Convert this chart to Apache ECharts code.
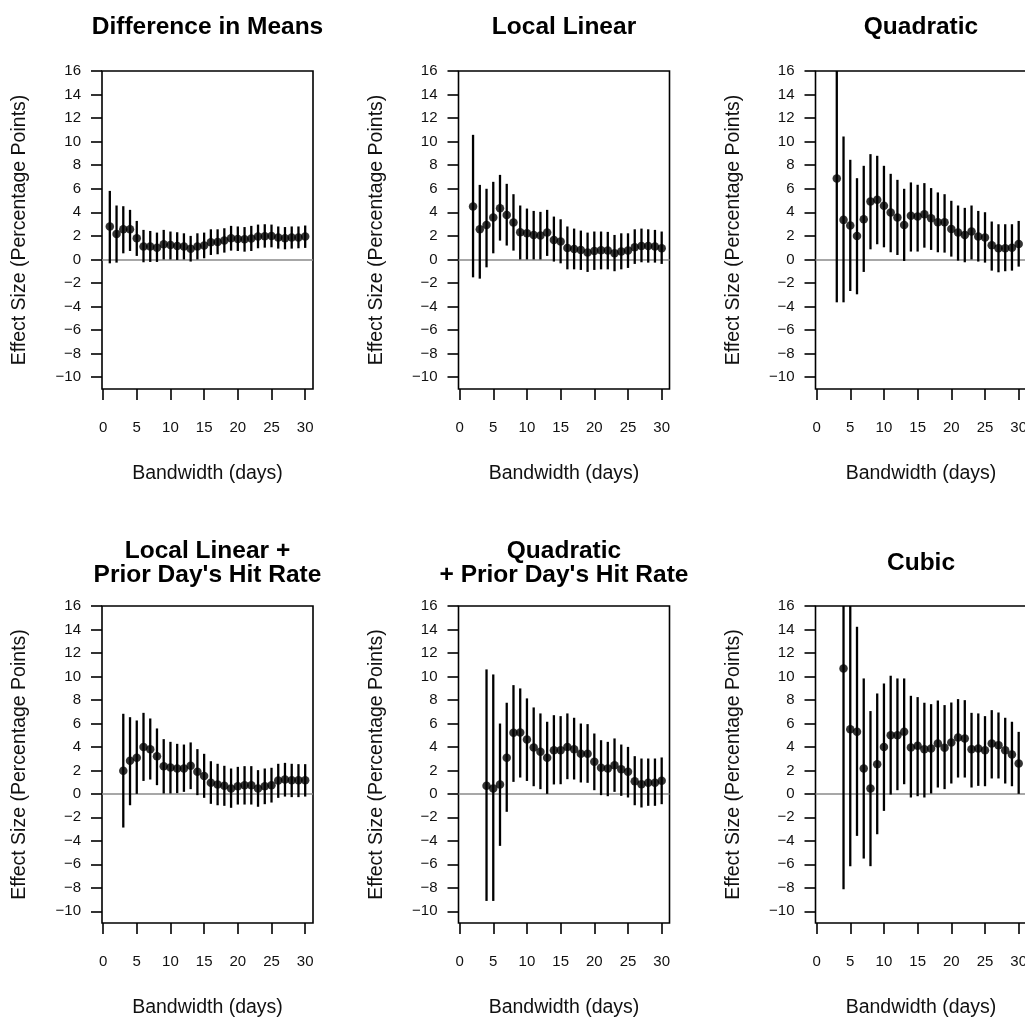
<!DOCTYPE html>
<html>
<head>
<meta charset="utf-8">
<script src="https://cdn.jsdelivr.net/npm/echarts@6/dist/echarts.min.js"></script>
<style>
html,body{margin:0;padding:0;background:#fff;}
#chart{width:1025px;height:1018px;}
</style>
</head>
<body>
<div id="chart"></div>
<script>
// ---- Data ----
const xTicks = [0, 5, 10, 15, 20, 25, 30];
const yTicks = [-10, -8, -6, -4, -2, 0, 2, 4, 6, 8, 10, 12, 14, 16];

const titles = [
  "Difference in Means",
  "Local Linear",
  "Quadratic",
  "Local Linear +\nPrior Day's Hit Rate",
  "Quadratic\n+ Prior Day's Hit Rate",
  "Cubic"
];

// Difference in Means
const bwDiff  = [1,2,3,4,5,6,7,8,9,10,11,12,13,14,15,16,17,18,19,20,21,22,23,24,25,26,27,28,29,30];
const estDiff = [2.79,2.17,2.56,2.56,1.80,1.09,1.09,1.00,1.29,1.23,1.15,1.09,0.90,1.09,1.18,1.46,1.49,1.60,1.80,1.74,1.71,1.77,1.94,1.97,2.00,1.86,1.80,1.86,1.86,1.94];
const loDiff  = [-0.33,-0.27,0.52,0.72,0.30,-0.24,-0.21,-0.21,0.00,0.00,-0.04,0.00,-0.18,0.00,0.10,0.38,0.44,0.58,0.75,0.72,0.66,0.72,0.95,1.00,1.03,0.92,0.86,0.92,0.95,0.98];
const hiDiff  = [5.82,4.58,4.52,4.21,3.27,2.51,2.42,2.28,2.51,2.37,2.31,2.22,2.00,2.22,2.28,2.56,2.56,2.65,2.85,2.80,2.75,2.85,2.96,2.99,2.96,2.80,2.75,2.80,2.80,2.88];

// Local Linear
const bwLL  = [2,3,4,5,6,7,8,9,10,11,12,13,14,15,16,17,18,19,20,21,22,23,24,25,26,27,28,29,30];
const estLL = [4.49,2.56,2.93,3.56,4.35,3.78,3.13,2.31,2.22,2.08,2.03,2.28,1.66,1.52,0.98,0.89,0.81,0.58,0.72,0.78,0.75,0.52,0.67,0.75,1.03,1.15,1.15,1.09,0.95];
const loLL  = [-1.52,-1.63,-0.67,0.52,1.60,1.18,0.75,0.00,0.00,0.00,0.00,0.30,-0.18,-0.33,-0.84,-0.84,-0.89,-1.06,-0.89,-0.84,-0.84,-1.00,-0.84,-0.72,-0.38,-0.24,-0.27,-0.27,-0.38];
const hiLL  = [10.58,6.33,6.00,6.59,7.18,6.42,5.54,4.58,4.32,4.12,4.04,4.21,3.64,3.41,2.80,2.62,2.45,2.28,2.37,2.37,2.34,2.08,2.22,2.22,2.56,2.62,2.56,2.51,2.37];

// Quadratic
const bwQ  = [3,4,5,6,7,8,9,10,11,12,13,14,15,16,17,18,19,20,21,22,23,24,25,26,27,28,29,30];
const estQ = [6.87,3.36,2.88,2.00,3.41,4.92,5.06,4.55,3.98,3.56,2.93,3.70,3.64,3.84,3.50,3.16,3.16,2.59,2.28,2.08,2.37,1.94,1.86,1.20,0.95,0.95,1.00,1.32];
const loQ  = [-3.64,-3.64,-2.68,-2.96,-1.06,0.86,1.29,1.03,0.61,0.38,-0.13,0.67,0.67,1.00,0.81,0.61,0.58,0.24,-0.10,-0.24,0.00,-0.18,-0.27,-0.95,-1.09,-1.00,-0.95,-0.61];
const hiQ  = [18.0,10.44,8.46,6.90,7.95,8.94,8.80,7.95,7.27,6.76,6.00,6.54,6.34,6.48,6.06,5.69,5.54,4.98,4.58,4.38,4.58,4.12,4.01,3.22,2.99,2.99,2.99,3.27];

// Local Linear + Prior Day's Hit Rate
const bwLLP  = [3,4,5,6,7,8,9,10,11,12,13,14,15,16,17,18,19,20,21,22,23,24,25,26,27,28,29,30];
const estLLP = [1.96,2.81,3.07,4.00,3.80,3.21,2.36,2.24,2.16,2.16,2.39,1.88,1.53,0.94,0.80,0.68,0.45,0.65,0.74,0.74,0.45,0.65,0.74,1.14,1.22,1.16,1.16,1.16];
const loLLP  = [-2.87,-0.97,0.00,1.10,1.22,0.74,0.03,0.03,0.06,0.17,0.40,-0.11,-0.34,-0.85,-0.97,-1.02,-1.19,-0.91,-0.91,-0.91,-1.10,-0.88,-0.74,-0.34,-0.23,-0.28,-0.28,-0.23];
const hiLLP  = [6.82,6.53,6.25,6.90,6.42,5.57,4.66,4.43,4.26,4.20,4.38,3.81,3.41,2.78,2.56,2.39,2.16,2.30,2.36,2.36,2.02,2.16,2.22,2.56,2.64,2.56,2.53,2.53];

// Quadratic + Prior Day's Hit Rate
const bwQP  = [4,5,6,7,8,9,10,11,12,13,14,15,16,17,18,19,20,21,22,23,24,25,26,27,28,29,30];
const estQP = [0.68,0.45,0.80,3.07,5.20,5.23,4.63,3.95,3.58,3.07,3.72,3.72,4.00,3.80,3.41,3.41,2.73,2.22,2.16,2.44,2.10,1.88,1.08,0.82,0.94,0.94,1.11];
const loQP  = [-9.12,-9.12,-4.43,-1.53,1.02,1.39,1.10,0.65,0.40,0.00,0.80,0.82,1.25,1.22,0.97,0.94,0.31,-0.11,-0.20,0.17,-0.17,-0.31,-0.97,-1.16,-1.02,-1.02,-0.88];
const hiQP  = [10.60,10.17,5.99,7.76,9.26,8.98,8.13,7.36,6.85,6.14,6.70,6.62,6.85,6.48,5.99,5.94,5.14,4.57,4.43,4.72,4.20,4.00,3.21,3.01,3.01,3.01,3.10];

// Cubic
const bwC  = [4,5,6,7,8,9,10,11,12,13,14,15,16,17,18,19,20,21,22,23,24,25,26,27,28,29,30];
const estC = [10.68,5.51,5.28,2.16,0.45,2.53,4.00,5.00,5.00,5.28,3.95,4.09,3.80,3.86,4.29,3.92,4.38,4.80,4.72,3.80,3.86,3.72,4.29,4.15,3.72,3.35,2.59];
const loC  = [-8.13,-6.16,-3.58,-5.51,-6.16,-3.44,-1.45,-0.06,0.31,0.82,-0.31,-0.20,-0.31,0.03,0.54,0.40,0.88,1.39,1.39,0.54,0.68,0.65,1.31,1.31,0.88,0.65,0.00];
const hiC  = [18.0,18.0,14.23,9.83,7.05,8.55,9.40,10.06,9.83,9.83,8.35,8.24,7.76,7.64,7.95,7.56,7.78,8.07,7.98,6.90,6.85,6.62,7.13,6.93,6.48,6.14,5.28];

// ---- Layout ----
const panels = [
  {bw: bwDiff, est: estDiff, lo: loDiff, hi: hiDiff},
  {bw: bwLL,   est: estLL,   lo: loLL,   hi: hiLL},
  {bw: bwQ,    est: estQ,    lo: loQ,    hi: hiQ},
  {bw: bwLLP,  est: estLLP,  lo: loLLP,  hi: hiLLP},
  {bw: bwQP,   est: estQP,   lo: loQP,   hi: hiQP},
  {bw: bwC,    est: estC,    lo: loC,    hi: hiC}
];
const colLeft = [102, 458.5, 815.5];
const boxW = 211;
const rowTop = [71, 606];
const boxH = [318, 317];
const titleCenterY = [25, 561];

const FONT = "'Liberation Sans', Arial, Helvetica, sans-serif";
const fmt = v => (v < 0 ? '\u2212' + Math.abs(v) : String(v));

const grid = [], xAxis = [], yAxis = [], series = [], title = [];
panels.forEach((p, i) => {
  const r = Math.floor(i / 3), c = i % 3;
  grid.push({left: colLeft[c], top: rowTop[r], width: boxW, height: boxH[r],
    outerBoundsMode: 'none', containLabel: false,
    show: true, borderColor: '#000', borderWidth: 1.6, backgroundColor: 'transparent'});
  xAxis.push({type: 'value', gridIndex: i, min: -0.16, max: 31.16,
    name: 'Bandwidth (days)', nameLocation: 'middle', nameGap: 75,
    nameTextStyle: {fontSize: 19.5, color: '#111', fontFamily: FONT},
    axisLine: {show: false, onZero: false}, splitLine: {show: false},
    axisTick: {show: true, inside: false, length: 11, customValues: xTicks, lineStyle: {color: '#000', width: 1.6}},
    axisLabel: {show: true, customValues: xTicks, margin: 31, fontSize: 15, color: '#111', fontFamily: FONT, formatter: fmt}
  });
  yAxis.push({type: 'value', gridIndex: i, min: -11, max: 16,
    name: 'Effect Size (Percentage Points)', nameLocation: 'middle', nameGap: 72, nameRotate: 90,
    nameTextStyle: {fontSize: 19.5, color: '#111', fontFamily: FONT},
    axisLine: {show: false, onZero: false}, splitLine: {show: false},
    axisTick: {show: true, inside: false, length: 11, customValues: yTicks, lineStyle: {color: '#000', width: 1.6}},
    axisLabel: {show: true, customValues: yTicks, margin: 21, fontSize: 15, color: '#111', fontFamily: FONT, formatter: fmt}
  });
  const lines = titles[i].split('\n').length;
  title.push({text: titles[i], left: colLeft[c] + boxW / 2, top: titleCenterY[r] - lines * 12 + 2,
    textAlign: 'center', padding: 0,
    textStyle: {fontSize: 24.5, fontWeight: 'bold', color: '#000', fontFamily: FONT, lineHeight: 24}});
  const barData = p.bw.map((b, k) => [b, p.lo[k], p.hi[k]]);
  const ptData = p.bw.map((b, k) => [b, p.est[k]]);
  series.push({type: 'custom', xAxisIndex: i, yAxisIndex: i, clip: true, z: 3, silent: true,
    data: barData, encode: {x: 0, y: [1, 2]},
    renderItem: (params, api) => {
      const a = api.coord([api.value(0), api.value(1)]);
      const b = api.coord([api.value(0), api.value(2)]);
      return {type: 'line', shape: {x1: a[0], y1: a[1], x2: b[0], y2: b[1]},
        style: {stroke: '#000', lineWidth: 2.3}};
    },
    markLine: {silent: true, symbol: 'none', label: {show: false}, animation: false, z: 1,
      lineStyle: {color: '#8a8a8a', width: 1.5, type: 'solid'}, data: [{yAxis: 0}]}
  });
  series.push({type: 'scatter', xAxisIndex: i, yAxisIndex: i, data: ptData, symbol: 'circle', symbolSize: 8.5,
    itemStyle: {color: '#000'}, z: 4, silent: true});
});

const chart = echarts.init(document.getElementById('chart'), null, {renderer: 'canvas'});
chart.setOption({animation: false, backgroundColor: '#fff', title, grid, xAxis, yAxis, series});
</script>
</body>
</html>
